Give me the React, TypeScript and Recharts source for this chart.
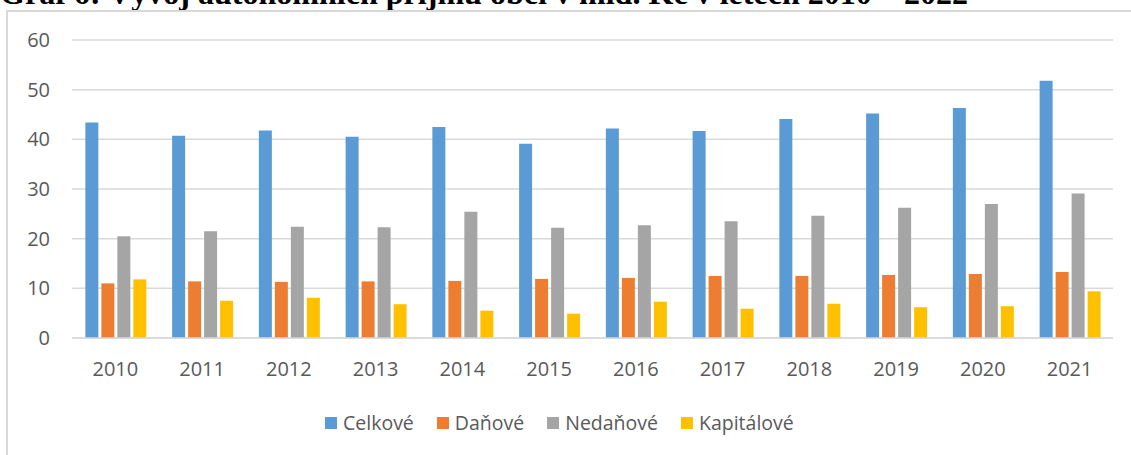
import { BarChart, Bar, XAxis, YAxis, CartesianGrid, Legend } from "recharts"

const years = ["2010", "2011", "2012", "2013", "2014", "2015", "2016", "2017", "2018", "2019", "2020", "2021"]
const celkove = [43.4, 40.7, 41.8, 40.5, 42.5, 39.1, 42.2, 41.7, 44.1, 45.2, 46.3, 51.8]
const danove = [11.0, 11.4, 11.3, 11.4, 11.5, 11.9, 12.1, 12.5, 12.5, 12.7, 12.9, 13.3]
const nedanove = [20.5, 21.5, 22.4, 22.3, 25.4, 22.2, 22.7, 23.5, 24.6, 26.2, 27.0, 29.1]
const kapitalove = [11.8, 7.5, 8.1, 6.8, 5.5, 4.9, 7.3, 5.9, 6.9, 6.2, 6.4, 9.4]
const seriesNames = ["Celkové", "Daňové", "Nedaňové", "Kapitálové"]
const yTicks = [0, 10, 20, 30, 40, 50, 60]

const data = years.map((year, i) => ({
  year,
  celkove: celkove[i],
  danove: danove[i],
  nedanove: nedanove[i],
  kapitalove: kapitalove[i],
}))

const font = "'Open Sans', sans-serif"
const textColor = "#595959"
const gridColor = "#d9d9d9"

function LegendContent(props: any) {
  // keep the series order, recharts sorts the legend by name otherwise
  const items = [...(props.payload || [])].sort(
    (a: any, b: any) => seriesNames.indexOf(a.value) - seriesNames.indexOf(b.value)
  )
  return (
    <div style={{ display: "flex", alignItems: "center" }}>
      {items.map((e: any, i: number) => (
        <div key={i} style={{ display: "flex", alignItems: "center", marginRight: 23 }}>
          <span style={{ width: 12, height: 12, background: e.color, marginRight: 6, display: "inline-block" }} />
          <span style={{ fontSize: 19.5, color: textColor, fontFamily: font, lineHeight: "24px" }}>{e.value}</span>
        </div>
      ))}
    </div>
  )
}

export default function App() {
  return (
    <div style={{ position: "absolute", left: 0, top: 0, width: 1131, height: 455, overflow: "hidden", background: "#fff" }}>
      {/* title, cut off at the top like in the source */}
      <svg width={1131} height={12} style={{ position: "absolute", left: 0, top: 0 }}>
        <text x={0} y={4} fontFamily="'Liberation Serif', serif" fontWeight="bold" fontSize={32} textLength={968} lengthAdjust="spacingAndGlyphs" fill="#000">
          Graf 6: Vývoj autonomních příjmů obcí v mld. Kč v letech 2010 – 2022
        </text>
      </svg>
      <div style={{ position: "absolute", left: 6, top: 10, width: 1300, height: 600, border: `2px solid ${gridColor}` }} />
      <div style={{ position: "absolute", left: 0, top: 0 }}>
        <BarChart width={1131} height={455} data={data} margin={{ top: 40, right: 18, left: 0, bottom: 57 }} barCategoryGap="15.4%" barGap={3}>
          <CartesianGrid vertical={false} stroke={gridColor} strokeWidth={1.5} />
          <XAxis dataKey="year" height={60} tickLine={false} axisLine={{ stroke: gridColor, strokeWidth: 1.5 }} tickMargin={18} tick={{ fontSize: 20, fill: textColor, fontFamily: font }} />
          <YAxis width={72} domain={[0, 60]} ticks={yTicks} tickLine={false} axisLine={false} tickMargin={16} tick={{ fontSize: 20, fill: textColor, fontFamily: font }} />
          <Legend layout="horizontal" verticalAlign="middle" align="center" content={LegendContent} wrapperStyle={{ left: 325, top: 411, width: 600 }} />
          <Bar dataKey="celkove" name="Celkové" fill="#5B9BD5" isAnimationActive={false} />
          <Bar dataKey="danove" name="Daňové" fill="#ED7D31" isAnimationActive={false} />
          <Bar dataKey="nedanove" name="Nedaňové" fill="#A5A5A5" isAnimationActive={false} />
          <Bar dataKey="kapitalove" name="Kapitálové" fill="#FFC000" isAnimationActive={false} />
        </BarChart>
      </div>
    </div>
  )
}
